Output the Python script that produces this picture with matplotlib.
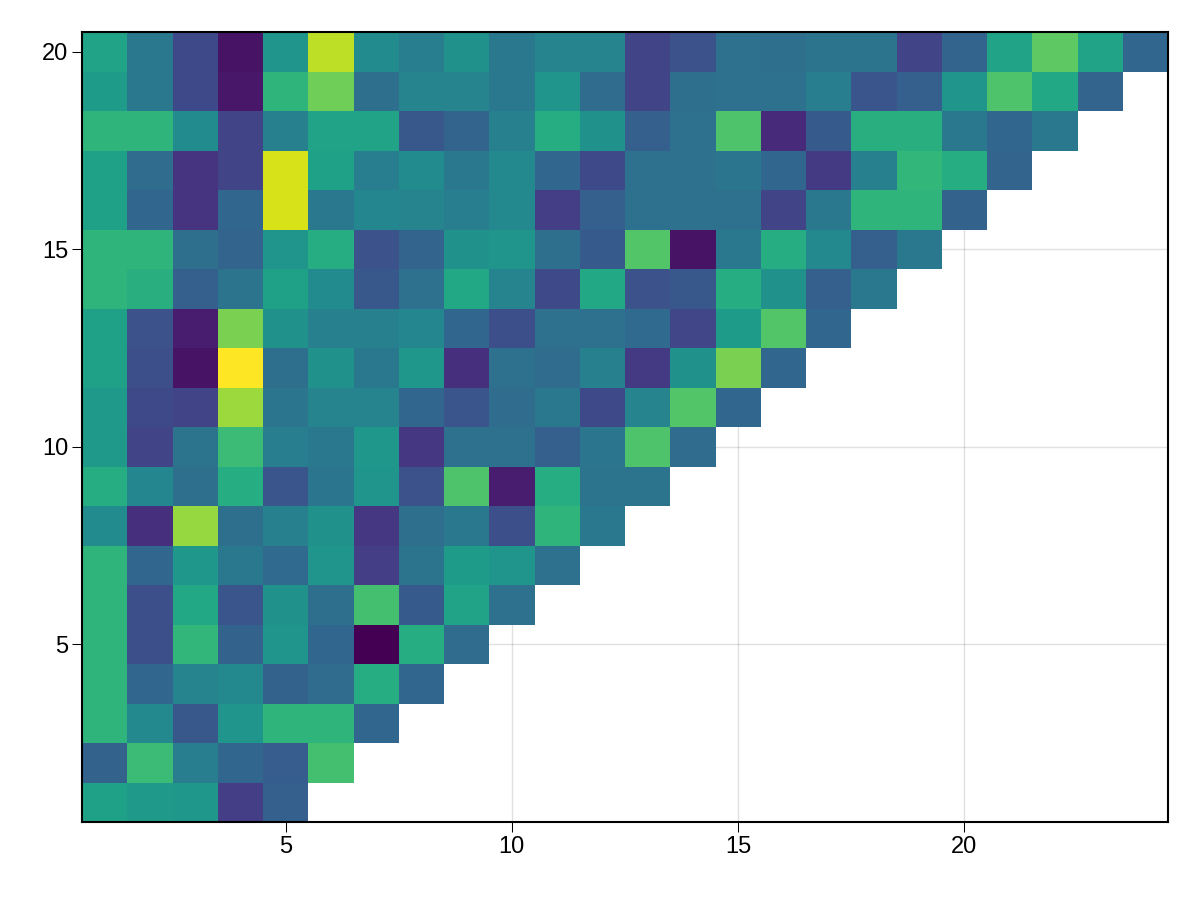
import numpy as np
import matplotlib.pyplot as plt

plt.rcParams['font.family'] = ['Liberation Sans', 'DejaVu Sans']

# rows from y=1 up to y=20, each row is shorter the lower it sits
row_01 = [0.57, 0.54, 0.53, 0.18, 0.30]
row_02 = [0.31, 0.68, 0.42, 0.33, 0.29, 0.70]
row_03 = [0.65, 0.47, 0.27, 0.52, 0.65, 0.65, 0.33]
row_04 = [0.65, 0.33, 0.45, 0.47, 0.31, 0.35, 0.62, 0.33]
row_05 = [0.65, 0.24, 0.66, 0.31, 0.52, 0.33, 0.00, 0.62, 0.35]
row_06 = [0.65, 0.24, 0.60, 0.26, 0.50, 0.36, 0.70, 0.28, 0.58, 0.37]
row_07 = [0.65, 0.33, 0.53, 0.40, 0.34, 0.52, 0.18, 0.38, 0.55, 0.52, 0.37]
row_08 = [0.48, 0.14, 0.84, 0.36, 0.43, 0.50, 0.16, 0.36, 0.40, 0.24, 0.65, 0.40]
row_09 = [0.62, 0.46, 0.36, 0.62, 0.26, 0.39, 0.52, 0.25, 0.72, 0.08, 0.62, 0.38, 0.38]
row_10 = [0.54, 0.20, 0.38, 0.68, 0.42, 0.40, 0.53, 0.16, 0.37, 0.37, 0.30, 0.39, 0.72, 0.35]
row_11 = [0.54, 0.22, 0.20, 0.85, 0.39, 0.45, 0.45, 0.33, 0.26, 0.35, 0.40, 0.22, 0.45, 0.73, 0.33]
row_12 = [0.57, 0.24, 0.05, 1.00, 0.36, 0.50, 0.40, 0.53, 0.14, 0.37, 0.35, 0.43, 0.17, 0.50, 0.80, 0.33]
row_13 = [0.57, 0.25, 0.08, 0.80, 0.50, 0.43, 0.43, 0.46, 0.33, 0.24, 0.37, 0.37, 0.34, 0.21, 0.55, 0.73, 0.33]
row_14 = [0.65, 0.63, 0.30, 0.38, 0.57, 0.48, 0.27, 0.37, 0.60, 0.45, 0.22, 0.60, 0.25, 0.27, 0.62, 0.50, 0.30, 0.40]
row_15 = [0.65, 0.65, 0.36, 0.32, 0.52, 0.62, 0.25, 0.32, 0.50, 0.52, 0.36, 0.28, 0.73, 0.05, 0.40, 0.62, 0.47, 0.30, 0.40]
row_16 = [0.57, 0.33, 0.15, 0.33, 0.94, 0.40, 0.46, 0.45, 0.42, 0.47, 0.18, 0.30, 0.37, 0.37, 0.37, 0.20, 0.40, 0.65, 0.65, 0.31]
row_17 = [0.57, 0.35, 0.15, 0.20, 0.94, 0.57, 0.42, 0.48, 0.40, 0.47, 0.33, 0.22, 0.37, 0.37, 0.39, 0.33, 0.17, 0.43, 0.66, 0.62, 0.32]
row_18 = [0.65, 0.65, 0.48, 0.20, 0.43, 0.58, 0.58, 0.27, 0.32, 0.43, 0.62, 0.50, 0.30, 0.37, 0.72, 0.12, 0.28, 0.63, 0.63, 0.40, 0.33, 0.40]
row_19 = [0.55, 0.40, 0.22, 0.06, 0.65, 0.78, 0.36, 0.45, 0.45, 0.40, 0.52, 0.35, 0.20, 0.36, 0.37, 0.37, 0.42, 0.26, 0.30, 0.52, 0.72, 0.60, 0.32]
row_20 = [0.58, 0.40, 0.22, 0.05, 0.52, 0.90, 0.48, 0.42, 0.50, 0.40, 0.45, 0.45, 0.20, 0.25, 0.37, 0.36, 0.38, 0.38, 0.20, 0.32, 0.58, 0.75, 0.58, 0.33]

rows = [row_01, row_02, row_03, row_04, row_05, row_06, row_07, row_08, row_09, row_10,
        row_11, row_12, row_13, row_14, row_15, row_16, row_17, row_18, row_19, row_20]
ticks = [5, 10, 15, 20]

n_x = max(len(r) for r in rows)
grid = np.full((len(rows), n_x), np.nan)
for i, r in enumerate(rows):
    grid[i, :len(r)] = r

fig = plt.figure(figsize=(12, 9), dpi=100)
ax = fig.add_axes([82 / 1200, 1 - 822 / 900, (1168 - 82) / 1200, (822 - 32) / 900])

# pcolormesh leaves the nan cells empty so the grid shows through
x_edges = np.arange(n_x + 1) + 0.5
y_edges = np.arange(len(rows) + 1) + 0.5
ax.pcolormesh(x_edges, y_edges, np.ma.masked_invalid(grid), cmap='viridis', vmin=0, vmax=1, zorder=2)

ax.set_xticks(ticks)
ax.set_yticks(ticks)
ax.set_axisbelow(True)
ax.grid(True, color='black', alpha=0.12, linewidth=1.0)
ax.tick_params(length=7, width=0.75, labelsize=17, pad=3)
for spine in ax.spines.values():
    spine.set_linewidth(1.5)
    spine.set_zorder(5)

plt.savefig('out.png', dpi=100)
